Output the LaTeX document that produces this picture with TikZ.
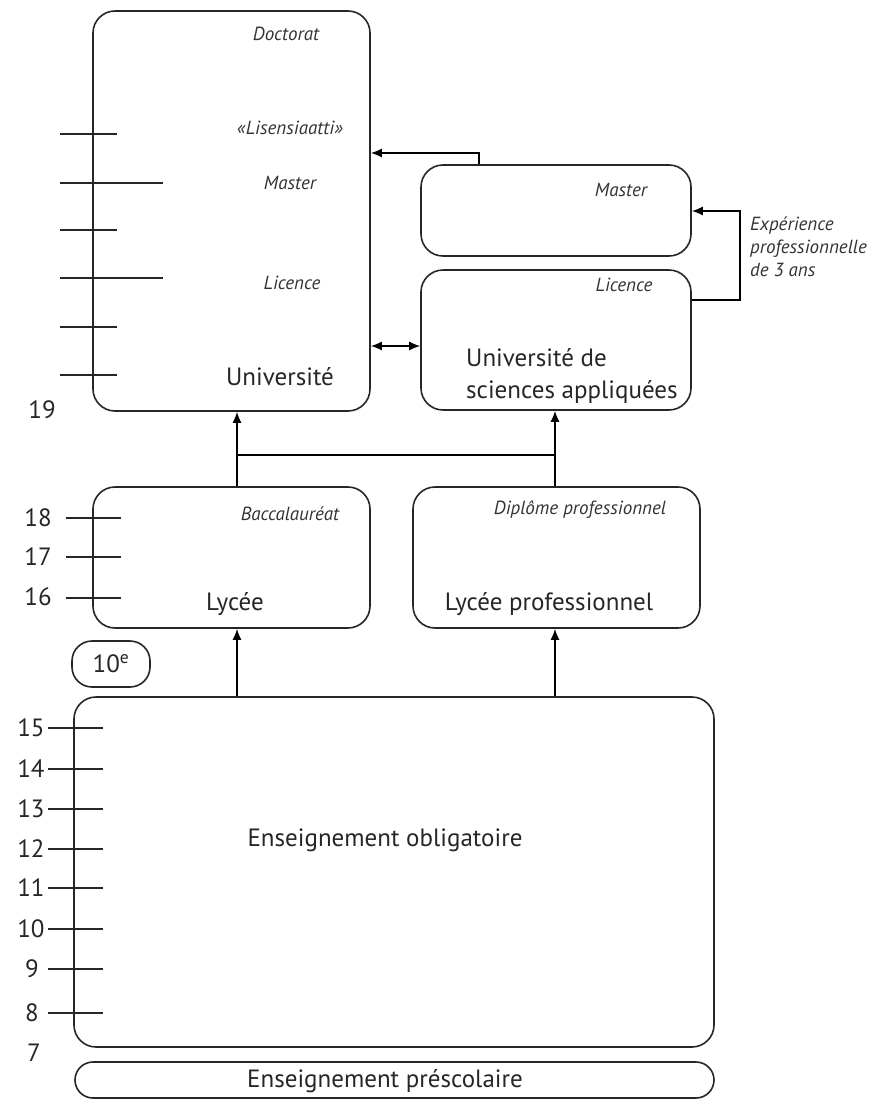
\documentclass[tikz,border=0pt]{standalone}
\usepackage{fontspec}
\setmainfont{PT Sans}
\usetikzlibrary{arrows.meta}

\begin{document}
\begin{tikzpicture}[x=1pt, y=-1pt, auto]
    \tikzstyle{school box} = [draw=black!85, line width=1.6pt, rounded corners=22pt, inner sep=0pt]
    \tikzstyle{pill box} = [school box, rounded corners=18pt]
    \tikzstyle{big label} = [font=\fontsize{25}{32}\selectfont, inner sep=0pt, text=black!85]
    \tikzstyle{small label} = [font=\fontsize{19}{23}\selectfont\itshape, inner sep=0pt, text=black!80]
    \tikzstyle{age tick} = [draw=black!85, line width=1.6pt]
    \tikzstyle{graph edge} = [draw=black, line width=1.6pt, -{Latex[length=11pt, width=9pt]}]
\useasboundingbox (0,0) rectangle (873,1100);
% boxes
\node[school box, minimum width=277pt, minimum height=400pt] (uni) at (231.5, 211) {};
\node[school box, minimum width=270pt, minimum height=91pt] (mas) at (556, 210.5) {};
\node[school box, minimum width=270pt, minimum height=140pt] (uas) at (556, 340) {};
\node[school box, minimum width=277pt, minimum height=141pt] (lyc) at (231.5, 557.5) {};
\node[school box, minimum width=287pt, minimum height=141pt] (lp) at (556.5, 557.5) {};
\node[pill box, rounded corners=20pt, minimum width=78pt, minimum height=46pt] (ten) at (111, 664) {};
\node[school box, minimum width=640pt, minimum height=350pt] (obl) at (394, 872) {};
\node[pill box, minimum width=639pt, minimum height=36pt] (pre) at (394.5, 1080) {};
% texts
\node[small label] (doc) at (286, 34) {Doctorat};
\node[small label] (lis) at (290, 128) {«Lisensiaatti»};
\node[small label] (unimas) at (290, 183) {Master};
\node[small label] (unilic) at (292, 283) {Licence};
\node[big label] (unitxt) at (280, 377) {Université};
\node[small label] (masmas) at (621, 190) {Master};
\node[small label] (uaslic) at (624, 285) {Licence};
\node[big label, anchor=west, align=left] (uastxt) at (466, 376) {Université de\\sciences appliquées};
\node[small label, anchor=west, align=left] (exp) at (750, 247) {Expérience\\professionnelle\\de 3 ans};
\node[small label] (bac) at (290, 514) {Baccalauréat};
\node[big label] (lyctxt) at (235, 604) {Lycée};
\node[small label] (dip) at (580, 510) {Diplôme professionnel};
\node[big label] (lptxt) at (549, 604) {Lycée professionnel};
\node[big label] (tentxt) at (111, 664) {10\textsuperscript{e}};
\node[big label] (obltxt) at (385, 840) {Enseignement obligatoire};
\node[big label] (pretxt) at (385, 1081) {Enseignement préscolaire};
% ages
\node[big label] (a19) at (42, 410) {19};
\node[big label] (a18) at (38, 518) {18};
\node[big label] (a17) at (38, 557) {17};
\node[big label] (a16) at (38, 597) {16};
\node[big label] (a15) at (31, 728) {15};
\node[big label] (a14) at (31, 769) {14};
\node[big label] (a13) at (31, 809) {13};
\node[big label] (a12) at (31, 849) {12};
\node[big label] (a11) at (31, 888) {11};
\node[big label] (a10) at (31, 929) {10};
\node[big label] (a9) at (32, 969) {9};
\node[big label] (a8) at (32, 1013) {8};
\node[big label] (a7) at (34, 1053) {7};
% ticks
\draw[age tick] (60,134) -- (117,134);
\draw[age tick] (60,183) -- (163,183);
\draw[age tick] (60,230) -- (117,230);
\draw[age tick] (60,278) -- (163,278);
\draw[age tick] (60,327) -- (117,327);
\draw[age tick] (60,375) -- (117,375);
\draw[age tick] (66,518) -- (121,518);
\draw[age tick] (66,557) -- (121,557);
\draw[age tick] (66,598) -- (121,598);
\draw[age tick] (48,728) -- (103,728);
\draw[age tick] (48,769) -- (103,769);
\draw[age tick] (48,809) -- (103,809);
\draw[age tick] (48,849) -- (103,849);
\draw[age tick] (48,888) -- (103,888);
\draw[age tick] (48,929) -- (103,929);
\draw[age tick] (48,969) -- (103,969);
\draw[age tick] (48,1013) -- (103,1013);
% connectors
\coordinate (mastop) at (479, 153);
\coordinate (dbl) at (0, 346);
\coordinate (expa) at (0, 300);
\coordinate (expb) at (740, 211);
\coordinate (junc) at (0, 455);
\coordinate (col1) at (237, 0);
\coordinate (col2) at (555, 0);
\draw[graph edge] (mas.north -| mastop) |- (uni.east |- mastop);
\draw[graph edge, {Latex[length=11pt, width=9pt]}-{Latex[length=11pt, width=9pt]}] (uni.east |- dbl) -- (uas.west |- dbl);
\draw[graph edge] (uas.east |- expa) -| (expb) -- (mas.east |- expb);
\draw[graph edge] (lyc.north -| col1) -- (uni.south -| col1);
\draw[graph edge] (lp.north -| col2) -- (uas.south -| col2);
\draw[graph edge, -] (junc -| col1) -- (junc -| col2);
\draw[graph edge] (obl.north -| col1) -- (lyc.south -| col1);
\draw[graph edge] (obl.north -| col2) -- (lp.south -| col2);
\end{tikzpicture}
\end{document}
